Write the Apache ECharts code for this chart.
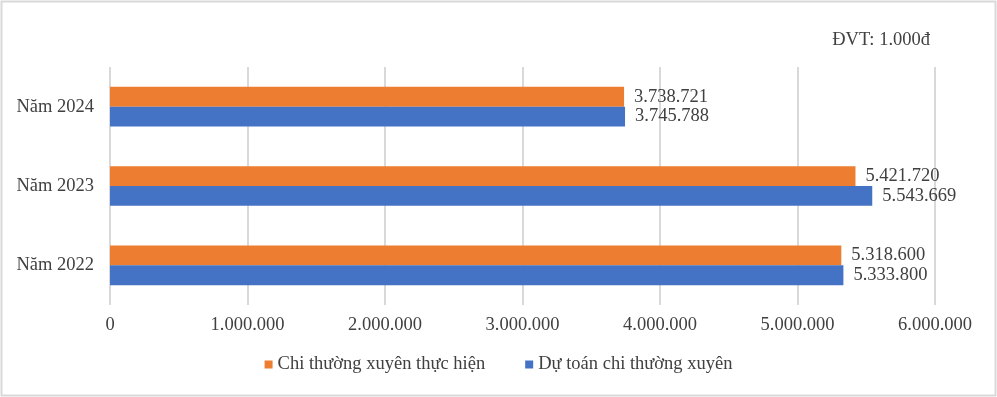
<!DOCTYPE html>
<html>
<head>
<meta charset="utf-8">
<script src="https://cdn.jsdelivr.net/npm/echarts@6/dist/echarts.min.js"></script>
<style>
  html, body { margin: 0; padding: 0; background: #fff; }
  #chart { width: 997px; height: 397px; }
</style>
</head>
<body>
<div id="chart"></div>
<script>
  const categories = ['Năm 2022', 'Năm 2023', 'Năm 2024'];
  const chiThucHien = [5318600, 5421720, 3738721];
  const duToan = [5333800, 5543669, 3745788];
  const seriesNames = ['Chi thường xuyên thực hiện', 'Dự toán chi thường xuyên'];

  const FONT = '"Liberation Serif", "Times New Roman", serif';
  const TEXT = '#404040';
  const FS = 18.5;

  const fmt = (v) => String(v).replace(/\B(?=(\d{3})+(?!\d))/g, '.');

  const chart = echarts.init(document.getElementById('chart'));

  const barLabel = {
    show: true,
    position: 'right',
    distance: 10,
    color: TEXT,
    fontFamily: FONT,
    fontSize: FS,
    formatter: (p) => fmt(p.value)
  };

  chart.setOption({
    animation: false,
    textStyle: { fontFamily: FONT },
    graphic: [
      {
        type: 'rect',
        shape: { x: 1.5, y: 1.5, width: 994, height: 394 },
        style: { fill: 'none', stroke: '#d9d9d9', lineWidth: 2 }
      }
    ],
    title: {
      text: 'ĐVT: 1.000đ',
      right: 62,
      top: 26,
      textStyle: { fontFamily: FONT, fontSize: FS, fontWeight: 'normal', color: TEXT }
    },
    legend: {
      bottom: 18,
      left: 'center',
      itemWidth: 8,
      itemHeight: 8,
      itemGap: 40,
      icon: 'rect',
      textStyle: { fontFamily: FONT, fontSize: FS, color: TEXT },
      data: seriesNames
    },
    grid: { left: 110, right: 62, top: 67, bottom: 92 },
    xAxis: {
      type: 'value',
      min: 0,
      max: 6000000,
      interval: 1000000,
      axisLine: { show: false },
      axisTick: { show: false },
      splitLine: { lineStyle: { color: '#d9d9d9', width: 2 } },
      axisLabel: {
        color: TEXT,
        fontFamily: FONT,
        fontSize: FS,
        margin: 11,
        formatter: (v) => fmt(v)
      }
    },
    yAxis: {
      type: 'category',
      data: categories,
      axisLine: { show: false },
      axisTick: { show: false },
      axisLabel: { color: TEXT, fontFamily: FONT, fontSize: FS, margin: 16 }
    },
    series: [
      {
        name: seriesNames[0],
        type: 'bar',
        data: chiThucHien,
        barGap: '0%',
        barCategoryGap: '50%',
        itemStyle: { color: '#ED7D31' },
        label: barLabel
      },
      {
        name: seriesNames[1],
        type: 'bar',
        data: duToan,
        barGap: '0%',
        barCategoryGap: '50%',
        itemStyle: { color: '#4472C4' },
        label: barLabel
      }
    ]
  });
</script>
</body>
</html>
